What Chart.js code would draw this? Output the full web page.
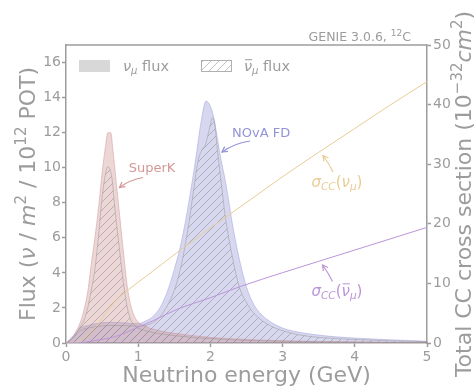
<!DOCTYPE html>
<html><head><meta charset="utf-8">
<script src="https://cdn.jsdelivr.net/npm/chart.js@4.4.0/dist/chart.umd.min.js"></script>
<style>html,body{margin:0;padding:0;background:#fff;}</style>
</head><body>
<canvas id="c" width="476" height="389"></canvas>
<script>
// ---- data ----
const skNumuE   = [0,0.05,0.1,0.15,0.2,0.25,0.3,0.35,0.4,0.45,0.5,0.55,0.58,0.62,0.65,0.7,0.75,0.8,0.85,0.9,0.95,1.0,1.1,1.2,1.35,1.5,1.75,2.0,2.5,3.0,3.5,4.0,4.5,5.0];
const skNumuFlux= [0,0.15,0.4,0.75,1.2,1.9,2.9,4.5,6.0,7.7,9.7,11.3,12.0,12.0,11.0,9.0,7.0,5.0,3.2,2.1,1.5,1.2,0.95,0.8,0.65,0.55,0.42,0.32,0.2,0.13,0.09,0.06,0.04,0.03];

const skNubarE   = [0,0.05,0.1,0.15,0.2,0.25,0.3,0.35,0.4,0.45,0.5,0.55,0.58,0.61,0.64,0.67,0.7,0.75,0.8,0.85,0.9,0.95,1.0,1.1,1.2,1.35,1.5,1.75,2.0,2.5,3.0,3.5,4.0,4.5,5.0];
const skNubarFlux= [0,0.1,0.3,0.6,0.95,1.3,2.0,3.0,4.2,6.1,8.3,9.7,10.05,9.9,9.3,8.0,6.8,5.0,3.3,2.0,1.3,1.0,0.85,0.7,0.6,0.5,0.42,0.32,0.25,0.15,0.1,0.07,0.05,0.03,0.02];

const novaNumuE   = [0,0.1,0.2,0.3,0.45,0.6,0.8,1.0,1.1,1.2,1.3,1.4,1.5,1.6,1.7,1.8,1.87,1.94,2.0,2.05,2.1,2.15,2.2,2.25,2.3,2.4,2.5,2.6,2.7,2.8,3.0,3.25,3.5,3.75,4.0,4.5,5.0];
const novaNumuFlux= [0,0.4,0.85,1.0,1.12,1.18,1.15,1.1,1.25,1.5,2.0,2.9,4.2,5.8,8.0,10.6,12.6,13.8,13.5,12.8,11.6,10.4,9.4,8.2,6.9,4.8,3.2,2.2,1.65,1.3,0.85,0.6,0.45,0.35,0.28,0.18,0.1];

const novaNubarE   = [0,0.1,0.2,0.3,0.45,0.6,0.8,1.0,1.1,1.2,1.3,1.4,1.5,1.6,1.7,1.77,1.83,1.88,1.93,1.98,2.03,2.06,2.1,2.16,2.2,2.3,2.4,2.5,2.6,2.8,3.0,3.25,3.5,4.0,4.5,5.0];
const novaNubarFlux= [0,0.3,0.7,0.85,0.95,1.0,1.0,0.95,1.0,1.15,1.5,2.1,3.0,4.5,6.8,8.8,10.4,11.0,11.3,12.1,12.85,12.5,10.9,8.8,7.4,5.0,3.2,2.3,1.7,1.05,0.7,0.45,0.32,0.2,0.12,0.08];

const sigNuE  = [0,0.14,0.2,0.3,0.42,0.55,0.69,0.86,1.11,1.53,2.0,2.55,2.97,3.5,4.0,4.5,5.0];
const sigNu   = [0,0,0.4,1.3,2.8,5.0,7.1,8.9,11.2,15.1,19.3,24.0,27.65,32.0,36.0,40.0,43.85];
const sigNubarE = [0,0.15,0.3,0.5,0.69,0.97,1.2,1.53,2.0,2.42,3.0,4.0,5.0];
const sigNubar  = [0,0,0.2,0.6,1.1,2.5,3.7,5.6,7.6,9.5,11.8,15.6,19.4];

const xTicks  = [0,1,2,3,4,5];
const yTicks  = [0,2,4,6,8,10,12,14,16];
const y2Ticks = [0,10,20,30,40,50];

// ---- styling ----
const GRAY = '#9c9c9c';
const FONT = 'DejaVu Sans';
const skFill = 'rgba(205,140,140,0.36)', skEdge = 'rgba(205,140,140,0.45)';
const nvFill = 'rgba(150,150,215,0.38)', nvEdge = 'rgba(150,150,215,0.45)';
const hatchEdge = 'rgba(150,150,150,0.5)';
const sigNuColor = '#e8cc94', sigNubarColor = '#bb94d8';
const skText = '#d49797', nvText = '#9393d6';

const pts = (xs, ys) => xs.map((x,i)=>({x:x, y:ys[i]}));

const canvas = document.getElementById('c');
const mainCtx = canvas.getContext('2d');
function hatch(color){
  const s = 8, c = document.createElement('canvas'); c.width = s; c.height = s;
  const g = c.getContext('2d'); g.strokeStyle = color; g.lineWidth = 1;
  g.beginPath();
  g.moveTo(0,s); g.lineTo(s,0);
  g.moveTo(-s/2,s/2); g.lineTo(s/2,-s/2);
  g.moveTo(s/2,s+s/2); g.lineTo(s+s/2,s/2);
  g.stroke();
  return mainCtx.createPattern(c,'repeat');
}
const hatchPat = hatch('rgba(140,140,140,0.55)');

// mixed-font text runs
function fontOf(p){ return (p.it?'italic ':'') + p.size + 'px "' + FONT + '"'; }
function drawRuns(ctx, parts, x, y, align){
  let total = 0;
  parts.forEach(p=>{ ctx.font = fontOf(p); p.w = ctx.measureText(p.t).width; total += p.w; });
  let cx = align==='center' ? x-total/2 : (align==='right' ? x-total : x);
  ctx.textAlign = 'left'; ctx.textBaseline = 'alphabetic';
  parts.forEach(p=>{
    ctx.font = fontOf(p);
    const yy = y + (p.dy||0);
    ctx.fillText(p.t, cx, yy);
    if (p.bar){
      ctx.save(); ctx.lineWidth = 1; ctx.strokeStyle = ctx.fillStyle;
      ctx.beginPath(); ctx.moveTo(cx+1, yy - p.size*0.78); ctx.lineTo(cx+p.w, yy - p.size*0.78); ctx.stroke();
      ctx.restore();
    }
    cx += p.w;
  });
}
function arrow(ctx, x0,y0,x1,y1,color,curv){
  const mx=(x0+x1)/2, my=(y0+y1)/2, dx=x1-x0, dy=y1-y0;
  const cx = mx - dy*curv, cy = my + dx*curv;
  ctx.save(); ctx.strokeStyle = color; ctx.lineWidth = 1.2;
  ctx.beginPath(); ctx.moveTo(x0,y0); ctx.quadraticCurveTo(cx,cy,x1,y1); ctx.stroke();
  const a = Math.atan2(y1-cy, x1-cx), L = 6, w = 0.5;
  ctx.beginPath();
  ctx.moveTo(x1-L*Math.cos(a-w), y1-L*Math.sin(a-w)); ctx.lineTo(x1,y1);
  ctx.lineTo(x1-L*Math.cos(a+w), y1-L*Math.sin(a+w)); ctx.stroke();
  ctx.restore();
}

const decor = {
  id: 'decor',
  afterDraw(chart){
    const ctx = chart.ctx, ca = chart.chartArea;
    ctx.save();
    // top spine
    ctx.strokeStyle = GRAY; ctx.lineWidth = 1.5;
    ctx.beginPath(); ctx.moveTo(ca.left, ca.top); ctx.lineTo(ca.right, ca.top); ctx.stroke();
    ctx.fillStyle = GRAY;
    // title
    drawRuns(ctx, [{t:'GENIE 3.0.6, ',size:12.5},{t:'12',size:9,dy:-5},{t:'C',size:12.5}], 411, 40.5, 'right');
    // axis titles
    drawRuns(ctx, [{t:'Neutrino energy (GeV)',size:22}], (ca.left+ca.right)/2, 382, 'center');
    ctx.save(); ctx.translate(34.5, (ca.top+ca.bottom)/2); ctx.rotate(-Math.PI/2);
    drawRuns(ctx, [{t:'Flux (',size:22},{t:'ν',size:22,it:true},{t:' / ',size:22},{t:'m',size:22,it:true},{t:'2',size:15,dy:-9},
      {t:' / 10',size:22},{t:'12',size:15,dy:-9},{t:' POT)',size:22}], 0, 0, 'center');
    ctx.restore();
    ctx.save(); ctx.translate(471, (ca.top+ca.bottom)/2); ctx.rotate(-Math.PI/2);
    drawRuns(ctx, [{t:'Total CC cross section (10',size:22},{t:'−32',size:15,dy:-9},{t:'cm',size:22,it:true},{t:'2',size:15,dy:-9},{t:')',size:22}], 0, 0, 'center');
    ctx.restore();
    // legend
    ctx.fillStyle = '#d8d8d8'; ctx.fillRect(79, 60, 31, 12);
    ctx.fillStyle = '#ffffff'; ctx.fillRect(201, 60, 31, 12);
    ctx.fillStyle = hatchPat; ctx.fillRect(201, 60, 31, 12);
    ctx.strokeStyle = '#b0b0b0'; ctx.lineWidth = 1; ctx.strokeRect(201.5, 60.5, 30, 11);
    ctx.fillStyle = GRAY;
    drawRuns(ctx, [{t:'ν',size:14.5,it:true},{t:'μ',size:10,it:true,dy:3},{t:' flux',size:14.5}], 123, 71, 'left');
    drawRuns(ctx, [{t:'ν',size:14.5,it:true,bar:true},{t:'μ',size:10,it:true,dy:3},{t:' flux',size:14.5}], 244, 71, 'left');
    // annotations
    ctx.fillStyle = skText;
    drawRuns(ctx, [{t:'SuperK',size:13}], 152, 172, 'center');
    arrow(ctx, 143, 177.5, 119.5, 187.5, skText, 0.12);
    ctx.fillStyle = nvText;
    drawRuns(ctx, [{t:'NOvA FD',size:13}], 232, 137, 'left');
    arrow(ctx, 250, 141, 222, 152, nvText, 0.12);
    ctx.fillStyle = sigNuColor;
    drawRuns(ctx, [{t:'σ',size:15,it:true},{t:'CC',size:10.5,it:true,dy:3},{t:'(',size:15},{t:'ν',size:15,it:true},{t:'μ',size:10.5,it:true,dy:3},{t:')',size:15}], 337, 186.5, 'center');
    arrow(ctx, 333, 172, 323, 155.5, sigNuColor, 0.05);
    ctx.fillStyle = sigNubarColor;
    drawRuns(ctx, [{t:'σ',size:15,it:true},{t:'CC',size:10.5,it:true,dy:3},{t:'(',size:15},{t:'ν',size:15,it:true,bar:true},{t:'μ',size:10.5,it:true,dy:3},{t:')',size:15}], 337, 295.5, 'center');
    arrow(ctx, 332.5, 281.5, 322.5, 265, sigNubarColor, 0.05);
    ctx.restore();
  }
};

const common = {pointRadius:0, borderWidth:1, cubicInterpolationMode:'monotone', fill:'origin', yAxisID:'y'};
new Chart(canvas, {
  type: 'line',
  data: {
    datasets: [
      {...common, label:'σ nubar', data: pts(sigNubarE, sigNubar), borderColor: sigNubarColor, fill:false, yAxisID:'y2', order:0},
      {...common, label:'σ nu', data: pts(sigNuE, sigNu), borderColor: sigNuColor, fill:false, yAxisID:'y2', order:1},
      {...common, label:'SK nubar', data: pts(skNubarE, skNubarFlux), backgroundColor: hatchPat, borderColor: hatchEdge, order:2},
      {...common, label:'NOvA nubar', data: pts(novaNubarE, novaNubarFlux), backgroundColor: hatchPat, borderColor: hatchEdge, order:3},
      {...common, label:'SK numu', data: pts(skNumuE, skNumuFlux), backgroundColor: skFill, borderColor: skEdge, order:4},
      {...common, label:'NOvA numu', data: pts(novaNumuE, novaNumuFlux), backgroundColor: nvFill, borderColor: nvEdge, order:5}
    ]
  },
  options: {
    responsive: false, animation: false, devicePixelRatio: 1,
    layout: {padding: {top: 45, left: 0, right: 0, bottom: 0}},
    plugins: {legend: {display:false}, tooltip: {enabled:false}},
    scales: {
      x: {type:'linear', min:0, max:5,
        afterBuildTicks: s => { s.ticks = xTicks.map(v=>({value:v})); },
        afterFit: s => { s.height = 46; },
        ticks: {color: GRAY, font:{size:14, family:FONT}, padding:2, maxRotation:0},
        grid: {drawOnChartArea:false, drawTicks:true, tickLength:4, color:GRAY, tickWidth:1.5},
        border: {color:GRAY, width:1.5}},
      y: {type:'linear', position:'left', min:0, max:17,
        afterBuildTicks: s => { s.ticks = yTicks.map(v=>({value:v})); },
        afterFit: s => { s.width = 66; },
        ticks: {color: GRAY, font:{size:14, family:FONT}, padding:1},
        grid: {drawOnChartArea:false, drawTicks:true, tickLength:4, color:GRAY, tickWidth:1.5},
        border: {color:GRAY, width:1.5}},
      y2: {type:'linear', position:'right', min:0, max:50,
        afterBuildTicks: s => { s.ticks = y2Ticks.map(v=>({value:v})); },
        afterFit: s => { s.width = 49; },
        ticks: {color: GRAY, font:{size:14, family:FONT}, padding:2},
        grid: {drawOnChartArea:false, drawTicks:true, tickLength:4, color:GRAY, tickWidth:1.5},
        border: {color:GRAY, width:1.5}}
    }
  },
  plugins: [decor]
});
</script>
</body></html>
